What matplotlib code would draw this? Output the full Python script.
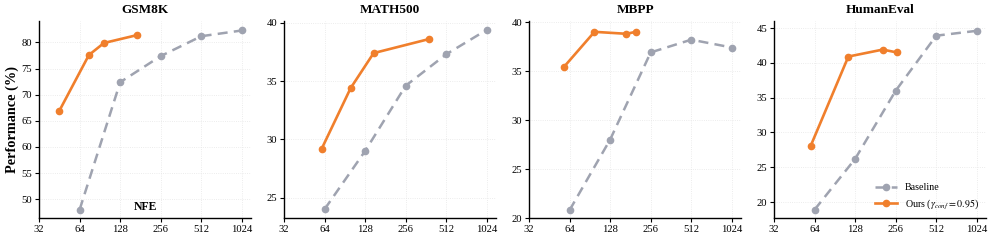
import matplotlib
matplotlib.use("Agg")
import matplotlib.pyplot as plt

plt.rcParams['font.family'] = ['Liberation Serif', 'DejaVu Serif']
plt.rcParams['mathtext.fontset'] = 'stix'

titles = ['GSM8K', 'MATH500', 'MBPP', 'HumanEval']

base_nfe = [64, 128, 256, 512, 1024]
base_perf = [
    [48.0, 72.4, 77.4, 81.2, 82.3],
    [24.0, 29.0, 34.6, 37.3, 39.4],
    [20.8, 28.0, 36.9, 38.2, 37.4],
    [18.9, 26.2, 36.0, 43.9, 44.6],
]

ours_nfe = [
    [45, 75, 97, 170],
    [61, 100, 148, 380],
    [58, 98, 169, 199],
    [60, 114, 205, 260],
]
ours_perf = [
    [66.8, 77.6, 79.9, 81.4],
    [29.2, 34.4, 37.4, 38.6],
    [35.4, 39.0, 38.8, 39.0],
    [28.1, 40.9, 41.9, 41.5],
]

y_ranges = [(46.4, 84.1), (23.25, 40.15), (20, 40.1), (17.7, 46.0)]
y_ticks = [
    [50, 55, 60, 65, 70, 75, 80],
    [25, 30, 35, 40],
    [20, 25, 30, 35, 40],
    [20, 25, 30, 35, 40, 45],
]
x_ticks = [32, 64, 128, 256, 512, 1024]

orange = '#F07F2C'
gray = '#9FA3B0'

fig = plt.figure(figsize=(9.96, 2.42), dpi=100)
lefts = [0.0392, 0.2851, 0.5311, 0.7771]

for i in range(4):
    ax = fig.add_axes([lefts[i], 0.099, 0.213, 0.814])
    ax.plot(base_nfe, base_perf[i], color=gray, linestyle='--', linewidth=1.8,
            marker='o', markersize=4.5, label='Baseline', dashes=(4, 2.5))
    ax.plot(ours_nfe[i], ours_perf[i], color=orange, linewidth=1.9,
            marker='o', markersize=4.5, label=r'Ours ($\gamma_{conf}=0.95$)')
    ax.set_xscale('log', base=2)
    ax.set_xlim(32, 1200)
    ax.set_xticks(x_ticks)
    ax.set_xticklabels([str(t) for t in x_ticks])
    ax.minorticks_off()
    ax.set_ylim(*y_ranges[i])
    ax.set_yticks(y_ticks[i])
    ax.tick_params(labelsize=7.7, length=3, width=0.8, pad=2)
    ax.grid(True, linestyle=':', linewidth=0.6, color='#e6e6e6')
    ax.spines['top'].set_visible(False)
    ax.spines['right'].set_visible(False)
    ax.spines['left'].set_linewidth(1.0)
    ax.spines['bottom'].set_linewidth(1.0)
    ax.set_title(titles[i], fontsize=9.5, fontweight='bold', pad=6)
    if i == 0:
        ax.set_ylabel('Performance (%)', fontsize=10.3, fontweight='bold', labelpad=2)
        ax.text(0.5, 0.055, 'NFE', transform=ax.transAxes, ha='center',
                va='center', fontsize=8.5, fontweight='bold')
    if i == 3:
        ax.legend(loc='lower right', frameon=False, fontsize=7.2, handlelength=2.2,
                  borderaxespad=0.3)

fig.savefig('out.png', dpi=100)
